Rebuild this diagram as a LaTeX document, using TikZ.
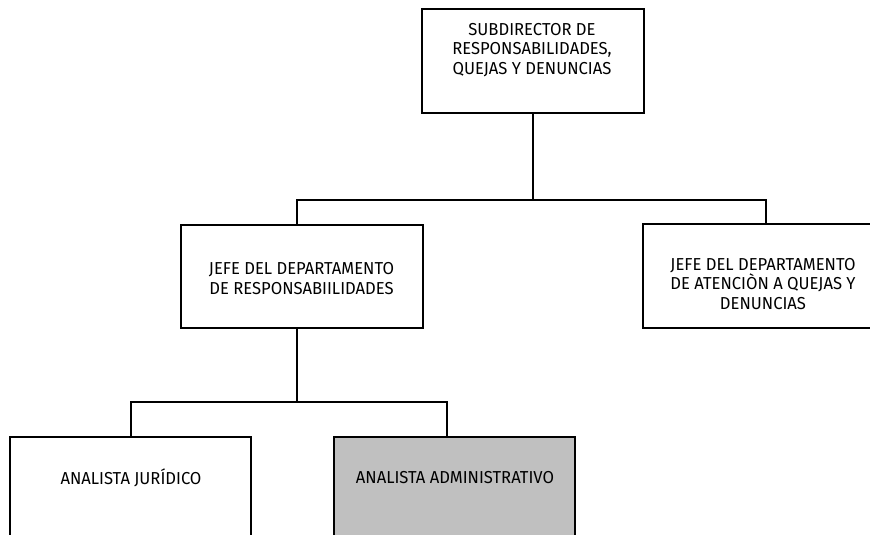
\documentclass[tikz,border=0pt]{standalone}
\usepackage{fontspec}
\setmainfont{Fira Sans}[FakeStretch=0.96]
\definecolor{boxgray}{RGB}{192,192,192}
\begin{document}
\begin{tikzpicture}[x=1pt,y=-1pt,
  box/.style={draw=black, line width=2pt, fill=white, inner sep=0pt},
  lbl/.style={align=center, inner sep=0pt, text=black,
              font=\fontsize{17.3}{19.6}\selectfont},
  conn/.style={draw=black, line width=2pt}]
\useasboundingbox (0,0) rectangle (870,535);
\clip (0,0) rectangle (870,535);

% boxes
\node[box, minimum width=222pt, minimum height=104pt] (sub) at (533,61) {};
\node[box, minimum width=242pt, minimum height=103pt] (jr) at (302,276.5) {};
\node[box, minimum width=242pt, minimum height=104pt] (ja) at (764,276) {};
\node[box, minimum width=241pt, minimum height=163pt] (aj) at (130.5,518.5) {};
\node[box, fill=boxgray, minimum width=241pt, minimum height=163pt] (aa) at (454.5,518.5) {};

% labels
\node[lbl] (subT) at (532,50) {SUBDIRECTOR DE\\RESPONSABILIDADES,\\QUEJAS Y DENUNCIAS};
\node[lbl] (jrT) at (301.5,278.5) {JEFE DEL DEPARTAMENTO\\DE RESPONSABIILIDADES};
\node[lbl] (jaT) at (763,284) {JEFE DEL DEPARTAMENTO\\DE ATENCIÒN A QUEJAS Y\\DENUNCIAS};
\node[lbl] (ajT) at (131,478) {ANALISTA JURÍDICO};
\node[lbl] (aaT) at (455,478) {ANALISTA ADMINISTRATIVO};

% connectors
\coordinate (j1) at (533,200);
\coordinate (j2) at (297,402);
\draw[conn] (sub.south) -- (j1);
\draw[conn] (j1) -| ([xshift=1.5pt]ja.north);
\draw[conn] (j1) -| ([xshift=-5pt]jr.north);
\draw[conn] ([xshift=-5pt]jr.south) -- (j2);
\draw[conn] (j2) -| (aj.north);
\draw[conn] (j2) -| ([xshift=-7.5pt]aa.north);
\end{tikzpicture}
\end{document}
